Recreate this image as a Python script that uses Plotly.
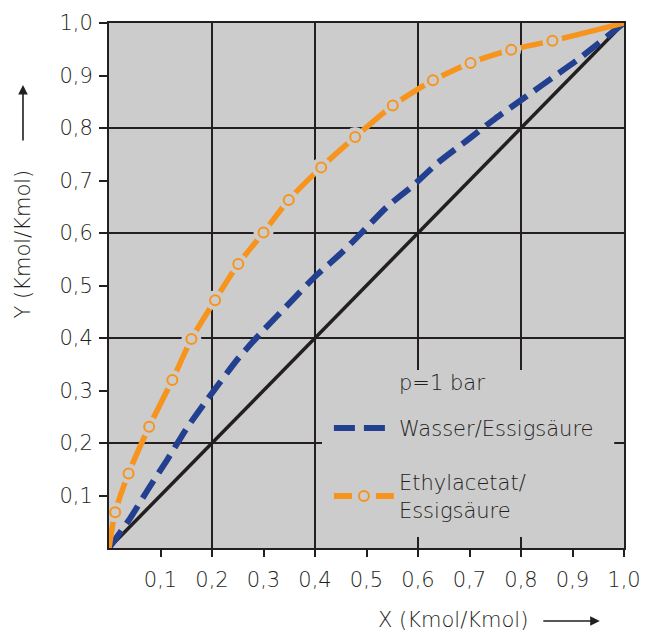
import plotly.graph_objects as go

# ---- data ----
tick_vals = [0.1, 0.2, 0.3, 0.4, 0.5, 0.6, 0.7, 0.8, 0.9, 1.0]
tick_text = ["0,1", "0,2", "0,3", "0,4", "0,5", "0,6", "0,7", "0,8", "0,9", "1,0"]
grid_vals = [0.2, 0.4, 0.6, 0.8]

diag_x = [0.0, 1.0]
diag_y = [0.0, 1.0]

wasser_x = [0.0, 0.04, 0.076, 0.113, 0.151, 0.188, 0.25, 0.30, 0.35, 0.40, 0.45,
            0.49, 0.54, 0.59, 0.64, 0.70, 0.75, 0.81, 0.86, 0.91, 0.95, 1.0]
wasser_y = [0.0, 0.055, 0.112, 0.168, 0.228, 0.279, 0.36, 0.415, 0.466, 0.517, 0.561,
            0.60, 0.65, 0.69, 0.735, 0.78, 0.818, 0.86, 0.895, 0.93, 0.961, 1.0]

ethyl_x = [0.012, 0.038, 0.078, 0.123, 0.160, 0.206, 0.251, 0.300, 0.349, 0.412,
           0.478, 0.551, 0.629, 0.702, 0.781, 0.861]
ethyl_y = [0.068, 0.142, 0.231, 0.320, 0.398, 0.472, 0.541, 0.601, 0.663, 0.725,
           0.783, 0.843, 0.891, 0.924, 0.949, 0.966]
ethyl_start = (0.0, 0.0)
ethyl_end = (1.0, 1.0)

name_wasser = "Wasser/Essigsäure"
name_ethyl = "Ethylacetat/<br>Essigsäure"
legend_title = "p=1 bar"
x_title = "X (Kmol/Kmol)"
y_title = "Y (Kmol/Kmol)"

# ---- style ----
BG = "#cccccc"
BLUE = "#233f8f"
ORANGE = "#f7941d"
INK = "#231f20"
TXT = "#231f20"
FONT = "DejaVu Sans"
FS = 21
FW = 300

def f(size=FS):
    return dict(family=FONT, size=size, color=TXT, weight=FW)

line_x = [ethyl_start[0]] + ethyl_x + [ethyl_end[0]]
line_y = [ethyl_start[1]] + ethyl_y + [ethyl_end[1]]

fig = go.Figure()

fig.add_trace(go.Scatter(x=diag_x, y=diag_y, mode="lines",
                         line=dict(color=INK, width=3.5), showlegend=False,
                         hoverinfo="skip"))

fig.add_trace(go.Scatter(x=wasser_x, y=wasser_y, mode="lines", name=name_wasser,
                         line=dict(color=BLUE, width=6, dash="21px,9px",
                                   shape="spline", smoothing=0.6),
                         legendgroup="a"))

# orange: solid line, gray underlay circles create gaps, open circles on top
fig.add_trace(go.Scatter(x=line_x, y=line_y, mode="lines",
                         line=dict(color=ORANGE, width=5.5, shape="spline", smoothing=0.6),
                         showlegend=False, hoverinfo="skip"))
fig.add_trace(go.Scatter(x=ethyl_x, y=ethyl_y, mode="markers",
                         marker=dict(symbol="circle", size=20, color=BG, line=dict(width=0)),
                         showlegend=False, hoverinfo="skip"))
fig.add_trace(go.Scatter(x=ethyl_x, y=ethyl_y, mode="markers",
                         marker=dict(symbol="circle", size=10, color=BG,
                                     line=dict(color=ORANGE, width=2)),
                         showlegend=False))
# legend entry for the orange series
fig.add_trace(go.Scatter(x=[None], y=[None], mode="lines+markers", name=name_ethyl,
                         line=dict(color=ORANGE, width=6, dash="18px,24px"),
                         marker=dict(symbol="circle", size=10, color=BG,
                                     line=dict(color=ORANGE, width=2)),
                         legendgroup="b"))

axis_common = dict(
    range=[0, 1], tickmode="array", tickvals=tick_vals, ticktext=tick_text,
    ticks="outside", tickwidth=2, tickcolor=INK, showgrid=False, zeroline=False,
    showline=True, linecolor=INK, linewidth=2, mirror=True, automargin=False,
    tickfont=f(),
    minor=dict(tickmode="array", tickvals=grid_vals, showgrid=True,
               gridcolor=INK, gridwidth=2, ticks=""),
)

fig.update_layout(
    width=647, height=632,
    margin=dict(l=109, r=23, t=23, b=84),
    paper_bgcolor="white", plot_bgcolor=BG,
    xaxis=dict(axis_common, ticklen=7, ticklabelstandoff=5),
    yaxis=dict(axis_common, ticklen=8, ticklabelstandoff=2),
    font=f(),
    legend=dict(
        x=0.427, y=0.267, xanchor="left", yanchor="top",
        bgcolor="rgba(0,0,0,0)", borderwidth=0, itemwidth=60,
        font=f(), traceorder="grouped", tracegroupgap=24,
    ),
    shapes=[
        # gray panel behind the legend that hides the grid lines
        dict(type="rect", xref="paper", yref="paper", x0=0.4136, x1=0.981,
             y0=0.021, y1=0.339, fillcolor=BG, line=dict(width=0), layer="above"),
    ],
    annotations=[
        dict(text=legend_title, xref="paper", yref="paper", x=0.559, y=0.314,
             xanchor="left", yanchor="middle", showarrow=False, font=f()),
        dict(text=y_title, xref="paper", yref="paper", x=-0.167, y=0.58,
             xanchor="center", yanchor="middle",
             textangle=-90, showarrow=False, font=f()),
        dict(text="", xref="paper", yref="paper", x=-0.167, y=0.882,
             ax=0, ay=57, showarrow=True, arrowhead=2, arrowsize=1.2,
             arrowwidth=1.6, arrowcolor=INK),
        dict(text=x_title, xref="paper", yref="paper", x=0.668, y=-0.137,
             xanchor="center", yanchor="middle", showarrow=False, font=f()),
        dict(text="", xref="paper", yref="paper", x=0.953, y=-0.139,
             ax=-58, ay=0, showarrow=True, arrowhead=2, arrowsize=1.2,
             arrowwidth=1.6, arrowcolor=INK),
    ],
)

fig.write_html("out.html", config={"displayModeBar": False},
               post_script="document.body.style.margin='0px';")
